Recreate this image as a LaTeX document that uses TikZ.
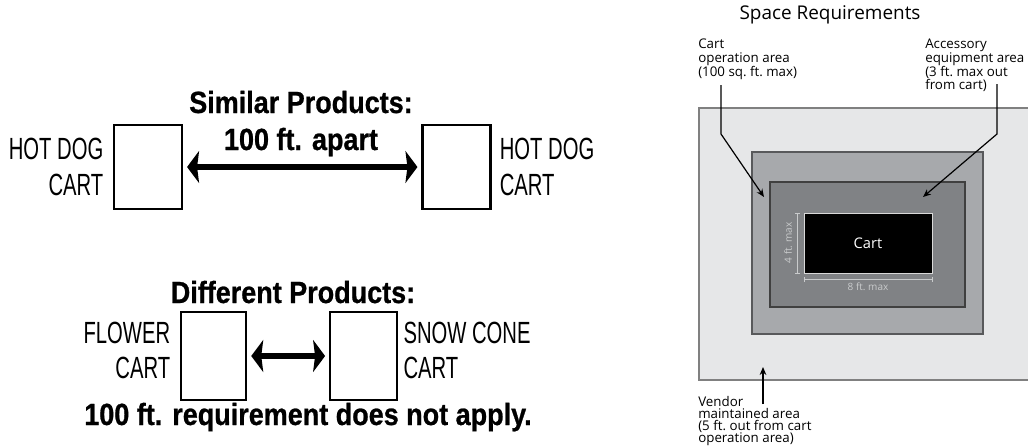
\documentclass[tikz,border=0pt]{standalone}
\usepackage{fontspec}
\usepackage{xcolor}
\usetikzlibrary{arrows.meta,positioning}
\newfontfamily\condreg[FakeStretch=0.66]{Liberation Sans}
\newfontfamily\condbold[FakeStretch=0.88,FakeBold=0.8]{Liberation Sans Bold}
\newfontfamily\plansf{Open Sans}
\definecolor{vendorgray}{HTML}{E6E7E8}
\definecolor{accgray}{HTML}{A7A9AC}
\definecolor{opgray}{HTML}{808285}
\definecolor{edgegray}{HTML}{58595B}
\definecolor{dimgray}{HTML}{C9CBCC}

\begin{document}
\begin{tikzpicture}[x=0.75pt,y=-0.75pt,
  cartbox/.style={draw,line width=1.6pt,fill=white,inner sep=0pt},
  caption/.style={font=\condreg\fontsize{23}{26.5}\selectfont,inner sep=0pt},
  heading/.style={font=\condbold\fontsize{23}{26}\selectfont,inner sep=0pt,anchor=base},
  bigarrow/.style={{Stealth[length=9pt,width=24pt,inset=1.5pt]}-{Stealth[length=9pt,width=24pt,inset=1.5pt]},line width=4.5pt,shorten <=3pt,shorten >=3pt},
  plannote/.style={font=\plansf\fontsize{10}{9.9}\selectfont,align=left,inner sep=0pt,anchor=north west},
  dimlabel/.style={font=\plansf\fontsize{7.5}{8}\selectfont,text=dimgray,inner sep=0pt},
  dimline/.style={draw=dimgray,line width=0.6pt,{Bar[width=4pt]}-{Bar[width=4pt]}},
  leader/.style={line width=0.9pt,-{Stealth[length=6pt,width=5pt]}}]
  \useasboundingbox (0,0) rectangle (1028,447);

  % similar products
  \node[heading] (similar) at (301,113) {Similar Products:};
  \node[heading] (apart) at (301,150) {100 ft. apart};
  \node[cartbox,minimum width=51pt,minimum height=63pt] (hotdogA) at (148,167) {};
  \node[cartbox,minimum width=51pt,minimum height=63pt] (hotdogB) at (456.5,167) {};
  \node[caption,align=right,left=7pt of hotdogA] (hotdogAtext) {HOT DOG\\CART};
  \node[caption,align=left,right=6pt of hotdogB] (hotdogBtext) {HOT DOG\\CART};
  \draw[bigarrow] (hotdogA) -- (hotdogB);

  % different products
  \node[heading] (different) at (293,303) {Different Products:};
  \node[cartbox,minimum width=49pt,minimum height=66pt] (flower) at (213.5,356) {};
  \node[cartbox,minimum width=50pt,minimum height=66pt] (snowcone) at (363.5,356) {};
  \node[caption,align=right,left=7pt of flower,yshift=4pt] (flowertext) {FLOWER\\CART};
  \node[caption,align=left,right=4pt of snowcone,yshift=4pt] (snowconetext) {SNOW CONE\\CART};
  \draw[bigarrow] (flower) -- (snowcone);
  \node[heading] (noapply) at (308,425) {100 ft. requirement does not apply.};

  % space requirements
  \node[font=\plansf\fontsize{14.2}{16}\selectfont,inner sep=0pt] (spacereq) at (830,14.5) {Space Requirements};
  \filldraw[fill=vendorgray,draw=gray,line width=1.1pt] (699,108) rectangle (1040,380);
  \filldraw[fill=accgray,draw=edgegray,line width=1pt] (752,152) rectangle (983,334);
  \filldraw[fill=opgray,draw=black!75,line width=1pt] (770,182) rectangle (965,307);
  \node[fill=black,draw=white!85!black,line width=0.7pt,minimum width=96pt,minimum height=45pt,
        text=white,font=\plansf\fontsize{11}{12}\selectfont] (cart) at (868,243) {Cart};
  \draw[dimline] ([xshift=-4.5pt]cart.north west) -- ([xshift=-4.5pt]cart.south west);
  \draw[dimline] ([yshift=-4.5pt]cart.south west) -- ([yshift=-4.5pt]cart.south east);
  \node[dimlabel,rotate=90] (cartdepth) at (788,243) {4 ft.\ max};
  \node[dimlabel] (cartwidth) at (868,286.5) {8 ft.\ max};

  \node[plannote] (opnote) at (698,39) {Cart\\operation area\\(100 sq.\ ft.\ max)};
  \node[plannote] (accnote) at (925,39) {Accessory\\equipment area\\(3 ft.\ max out\\from cart)};
  \node[plannote,font=\plansf\fontsize{10}{9}\selectfont] (vendnote) at (698,396) {Vendor\\maintained area\\(5 ft.\ out from cart\\operation area)};

  \coordinate (optop) at (721,85);
  \coordinate (opbend) at (721,134);
  \coordinate (opend) at (764,197);
  \coordinate (acctop) at (997,84);
  \coordinate (accbend) at (997,134);
  \coordinate (accend) at (923,197);
  \coordinate (vendfoot) at (763,404);
  \coordinate (vendend) at (763,367);
  \draw[leader] (optop) -- (opbend) -- (opend);
  \draw[leader] (acctop) -- (accbend) -- (accend);
  \draw[leader] (vendfoot) -- (vendend);
\end{tikzpicture}
\end{document}
